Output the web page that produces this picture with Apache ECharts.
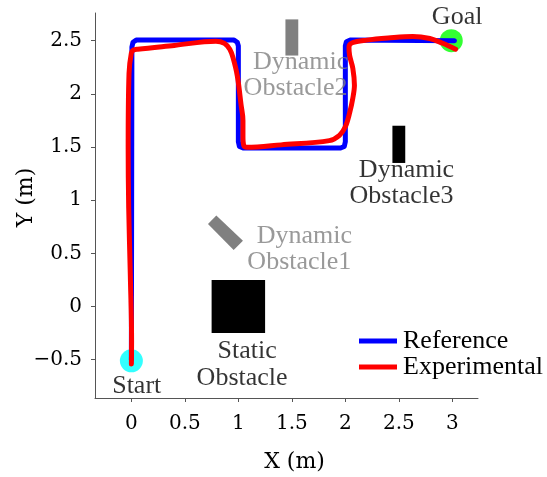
<!DOCTYPE html>
<html><head><meta charset="utf-8">
<script src="https://cdn.jsdelivr.net/npm/echarts@6/dist/echarts.min.js"></script>
<style>html,body{margin:0;padding:0;background:#fff}#c{width:547px;height:477px}</style>
</head><body><div id="c"></div><script>
// ---- data ----
const xTicks = [0, 0.5, 1, 1.5, 2, 2.5, 3];
const yTicks = [-0.5, 0, 0.5, 1, 1.5, 2, 2.5];
const seriesNames = ['Reference', 'Experimental'];
const referenceXY = [
  [0, -0.5], [0.005, 2.44], [0.015, 2.485], [0.045, 2.505], [0.96, 2.505], [0.99, 2.485], [1.0, 2.45],
  [1.0, 1.55], [1.01, 1.505], [1.045, 1.49], [1.955, 1.49], [1.99, 1.505], [2.0, 1.55],
  [2.0, 2.45], [2.01, 2.49], [2.045, 2.505], [3.02, 2.5]
];
const experimentalXY = [
  [0, -0.54], [0.002, -0.32], [-0.01, 0.3], [-0.025, 0.93], [-0.03, 1.5], [-0.022, 2.19],
  [0.0, 2.385], [0.02, 2.412], [0.06, 2.42], [0.4, 2.455], [0.79, 2.495], [0.87, 2.475],
  [0.92, 2.42], [0.95, 2.34], [0.99, 2.17], [1.025, 1.9], [1.043, 1.75], [1.043, 1.6],
  [1.05, 1.515], [1.08, 1.497], [1.4, 1.52], [1.85, 1.56], [1.945, 1.61], [2.0, 1.69],
  [2.04, 1.82], [2.07, 1.96], [2.085, 2.08], [2.07, 2.24], [2.04, 2.36], [2.034, 2.44],
  [2.065, 2.48], [2.2, 2.505], [2.4, 2.525], [2.63, 2.54], [2.79, 2.52], [2.91, 2.475], [3.03, 2.42]
];
const startPoint = [0, -0.51];
const goalPoint = [2.99, 2.5];
const staticObstacle = [[0.75, -0.25], [1.25, -0.25], [1.25, 0.25], [0.75, 0.25]];
const dynamicObstacle1 = [[0.716, 0.777], [0.794, 0.855], [1.043, 0.619], [0.956, 0.531]];
const dynamicObstacle2 = [[1.44, 2.36], [1.56, 2.36], [1.56, 2.70], [1.44, 2.70]];
const dynamicObstacle3 = [[2.44, 1.35], [2.56, 1.35], [2.56, 1.70], [2.44, 1.70]];
const labelTexts = ['Goal', 'Start', 'Static\nObstacle', 'Dynamic\nObstacle1', 'Dynamic\nObstacle2', 'Dynamic\nObstacle3'];
const labelXY = [[3.045, 2.72], [0.05, -0.75], [1.035, -0.545], [1.57, 0.54], [1.535, 2.175], [2.525, 1.16]];

// ---- styles ----
const GRAY = '#808080';
const obstacles = [
  { pts: staticObstacle, color: '#000' },
  { pts: dynamicObstacle1, color: GRAY },
  { pts: dynamicObstacle2, color: GRAY },
  { pts: dynamicObstacle3, color: '#000' }
];
const labelColors = ['#000', '#000', '#000', GRAY, GRAY, '#000'];
const fmt = v => (v < 0 ? '\u2212' + Math.abs(v) : String(v));
const serif = 'Liberation Serif';
const tickFont = 'DejaVu Serif';

const chart = echarts.init(document.getElementById('c'), null, { renderer: 'canvas' });
chart.setOption({
  animation: false,
  backgroundColor: '#fff',
  grid: { left: 95, right: 69, top: 13, bottom: 79, containLabel: false, outerBoundsMode: 'none' },
  xAxis: {
    type: 'value', min: -0.34, max: 3.24,
    name: 'X (m)', nameLocation: 'middle', nameGap: 53, nameMoveOverlap: false,
    nameTextStyle: { fontFamily: tickFont, fontSize: 22, color: '#000', padding: [0, 0, 0, 16] },
    axisLine: { show: true, onZero: false, lineStyle: { color: '#555', width: 1 } },
    axisTick: { show: true, inside: false, length: 4, customValues: xTicks, lineStyle: { color: '#555' } },
    axisLabel: { customValues: xTicks, formatter: fmt, fontFamily: tickFont, fontSize: 20, color: '#000', margin: 16 },
    splitLine: { show: false }
  },
  yAxis: {
    type: 'value', min: -0.86, max: 2.76,
    name: 'Y (m)', nameLocation: 'middle', nameGap: 58, nameRotate: 90, nameMoveOverlap: false,
    nameTextStyle: { fontFamily: tickFont, fontSize: 22, color: '#000', padding: [0, 0, 0, 16] },
    axisLine: { show: true, onZero: false, lineStyle: { color: '#555', width: 1 } },
    axisTick: { show: true, inside: false, length: 4, customValues: yTicks, lineStyle: { color: '#555' } },
    axisLabel: { customValues: yTicks, formatter: fmt, fontFamily: tickFont, fontSize: 20, color: '#000', margin: 13 },
    splitLine: { show: false }
  },
  legend: {
    data: seriesNames, orient: 'vertical', left: 359, top: 328, padding: 0,
    icon: 'rect', itemWidth: 38, itemHeight: 5, itemGap: 0,
    textStyle: { fontFamily: serif, fontSize: 26, lineHeight: 25, color: '#000', padding: [0, 0, 0, 1] }
  },
  series: [
    {
      type: 'custom', name: 'obstacles', z: 1, silent: true,
      data: obstacles.map((o, i) => [o.pts[0][0], o.pts[0][1], i]),
      renderItem: (params, api) => {
        const o = obstacles[params.dataIndex];
        return { type: 'polygon', shape: { points: o.pts.map(p => api.coord(p)) }, style: { fill: o.color } };
      }
    },
    {
      type: 'scatter', name: 'markers', z: 2, silent: true, symbolSize: 23,
      data: [
        { value: startPoint, itemStyle: { color: '#00ffff' } },
        { value: goalPoint, itemStyle: { color: '#00ff00' } }
      ]
    },
    {
      type: 'line', name: seriesNames[0], z: 3, data: referenceXY, symbol: 'none',
      itemStyle: { color: '#0000ff' },
      lineStyle: { color: '#0000ff', width: 5, cap: 'round', join: 'round' }
    },
    {
      type: 'line', name: seriesNames[1], z: 4, data: experimentalXY, symbol: 'none', smooth: 0.35,
      itemStyle: { color: '#ff0000' },
      lineStyle: { color: '#ff0000', width: 5, cap: 'round', join: 'round' }
    },
    {
      type: 'scatter', name: 'texts', z: 5, silent: true, symbolSize: 0,
      data: labelXY.map((p, i) => ({
        value: p, name: labelTexts[i],
        label: {
          show: true, position: 'inside', align: 'center', verticalAlign: 'middle',
          formatter: () => {
            const parts = labelTexts[i].split('\n');
            return parts.length > 1 ? '{a|' + parts[0] + '}\n{b|' + parts[1] + '}' : '{b|' + parts[0] + '}';
          },
          rich: {
            a: { fontFamily: serif, fontSize: 26, lineHeight: 26.5, color: labelColors[i], padding: [0, 0, 0, 10] },
            b: { fontFamily: serif, fontSize: 26, lineHeight: 26.5, color: labelColors[i] }
          }
        }
      }))
    }
  ]
});
</script></body></html>
